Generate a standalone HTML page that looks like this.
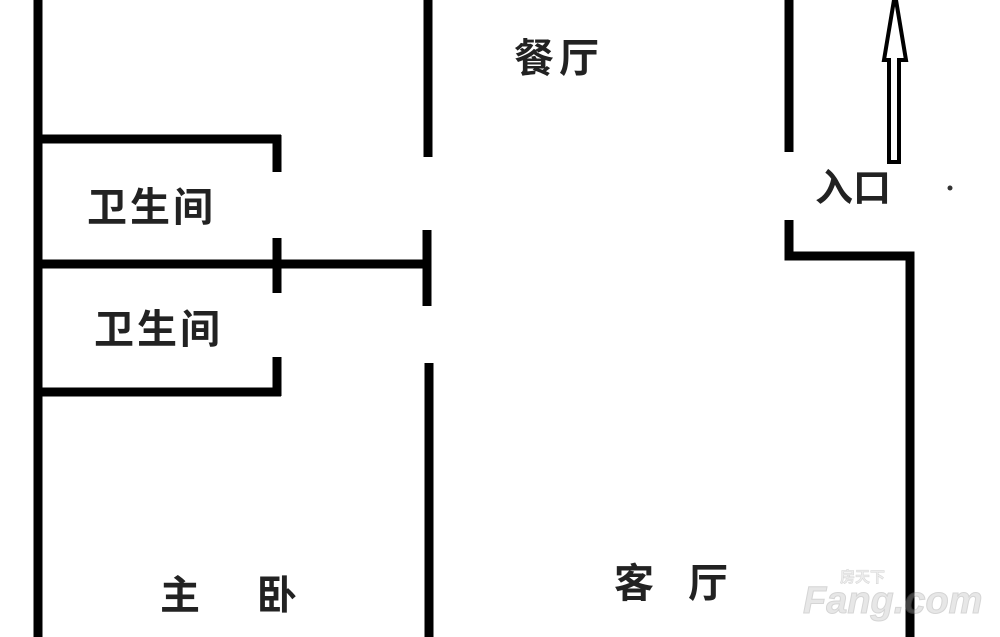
<!DOCTYPE html>
<html><head><meta charset="utf-8"><style>
html,body{margin:0;padding:0;background:#fff;}
svg{display:block}
text{font-family:"Liberation Sans","Noto Sans CJK SC",sans-serif;font-weight:bold;fill:#222;}
</style></head><body>
<svg width="1000" height="637" viewBox="0 0 1000 637" xmlns="http://www.w3.org/2000/svg">
<g stroke="#000" stroke-width="9" fill="none" stroke-linecap="butt">
<line x1="38" y1="0" x2="38" y2="637"/>
<line x1="34" y1="139" x2="281" y2="139"/>
<line x1="277" y1="135" x2="277" y2="172"/>
<line x1="34" y1="264" x2="426" y2="264"/>
<line x1="277" y1="238" x2="277" y2="293"/>
<line x1="34" y1="392" x2="281" y2="392"/>
<line x1="277" y1="357" x2="277" y2="396"/>
<line x1="428" y1="0" x2="428" y2="157"/>
<line x1="427" y1="230" x2="427" y2="306"/>
<line x1="429" y1="363" x2="429" y2="637"/>
<line x1="789" y1="0" x2="789" y2="152"/>
<polyline points="789,220 789,256 910,256 910,637"/>
</g>
<g stroke="#000" stroke-width="4" fill="#fff">
<polygon points="889,162 899,162 899,60 906,60 896,0 894,0 884,60 889,60"/>
</g>
<text x="514" y="72" font-size="40" letter-spacing="5">餐厅</text>
<text x="87" y="221" font-size="40" letter-spacing="3">卫生间</text>
<text x="94" y="343" font-size="40" letter-spacing="3">卫生间</text>
<text x="815" y="201" font-size="38" font-weight="normal">入口</text>
<text x="160" y="609" font-size="40">主</text>
<text x="257" y="609" font-size="40">卧</text>
<text x="614" y="597" font-size="40">客</text>
<text x="688" y="597" font-size="40">厅</text>
<circle cx="950" cy="188" r="2.5" fill="#333"/>
<g opacity="0.35">
<text x="803" y="613" font-size="38" style="font-style:italic;fill:#bbb;stroke:#888;stroke-width:1">Fang.com</text>
<text x="840" y="582" font-size="15" style="fill:#ccc;stroke:#888;stroke-width:0.5">房天下</text>
</g>
</svg>
</body></html>
